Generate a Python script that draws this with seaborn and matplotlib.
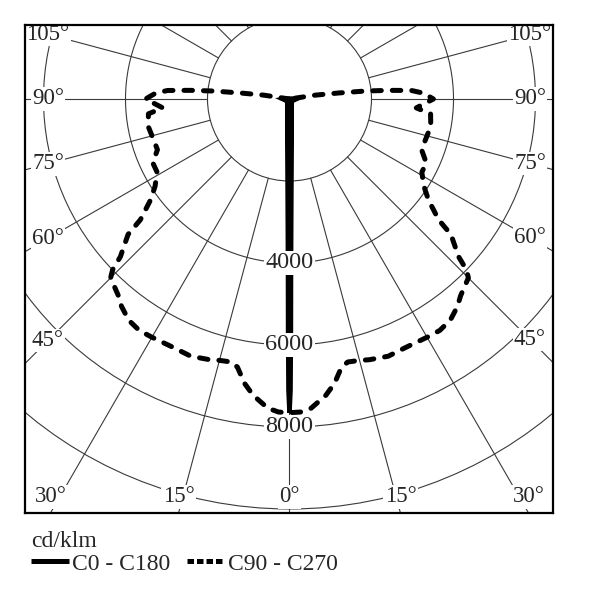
import numpy as np
import matplotlib
matplotlib.use("Agg")
import matplotlib.pyplot as plt
import matplotlib.patches as patches
from matplotlib.lines import Line2D
import seaborn as sns

# C0 - C180 plane, gamma angle (deg) -> cd/klm (C180 is the mirror image)
c0_angles = [0, 0.2, 0.35, 0.5, 0.8, 1.2, 2, 3, 5, 8, 12, 20, 30, 45, 60, 75, 90, 95, 100, 110]
c0_values = [7650, 7100, 5600, 4200, 3000, 2200, 1450, 1030, 620, 390, 260, 158, 110, 85, 80, 110, 170, 120, 60, 0]

# C90 - C270 plane (C270 is the mirror image)
c90_angles = [0, 2, 4, 7, 9, 11, 12.5, 15, 17, 21, 25, 30, 33, 36, 39, 41, 45, 46, 47,
              50, 51, 54, 57, 61, 65, 69, 73, 79, 84, 86, 90, 92.5, 94, 95, 96, 97, 98.5, 100]
c90_values = [7650, 7640, 7560, 7280, 7020, 6660, 6570, 6600, 6650, 6720, 6690, 6710, 6730, 6670, 6510, 6360, 6170, 6000, 5640,
              5140, 4680, 4190, 3910, 3690, 3680, 3450, 3460, 3510, 3460, 3100, 3510, 3270, 2980, 2420, 1860, 1200, 640, 0]

grid_radii = [2000, 4000, 6000, 8000, 10000, 12000]
radius_labels = [4000, 6000, 8000]
bottom_angle_labels = [0, 15, 30]
side_angle_labels = [45, 60, 75, 90, 105]
legend_labels = ["C0 - C180", "C90 - C270"]
unit_label = "cd/klm"

S = 0.041  # pixels per cd/klm
FS = 16.5
GRID_COL = '#3a3a3a'


def polar_xy(angles, values):
    '''Mirror a half plane to both sides, 0 deg pointing down.'''
    a = np.radians(np.asarray(angles, float))
    v = np.asarray(values, float)
    a_full = np.concatenate([-a[::-1], a[1:]])
    v_full = np.concatenate([v[::-1], v[1:]])
    return v_full * np.sin(a_full), -v_full * np.cos(a_full)


sns.set_style("white")
plt.rcParams['font.family'] = ['Liberation Serif', 'DejaVu Serif']

fig = plt.figure(figsize=(6, 6), dpi=100)
ax = fig.add_axes([25/600, 87/600, 528/600, 488/600])
xmin, xmax = -264.5/S, 263.5/S
ymin, ymax = -414/S, 74/S

# polar grid
for r in grid_radii:
    ax.add_patch(patches.Circle((0, 0), r, fill=False, lw=0.8, ec=GRID_COL, zorder=1))
for a in range(0, 360, 15):
    t = np.radians(a)
    ax.plot([2000*np.sin(t), 20000*np.sin(t)], [-2000*np.cos(t), -20000*np.cos(t)],
            color=GRID_COL, lw=0.8, zorder=1)

# curves
x0, y0 = polar_xy(c0_angles, c0_values)
sns.lineplot(x=x0, y=y0, sort=False, estimator=None, color='black', lw=3.3, ax=ax, zorder=3)
ax.get_lines()[-1].set_solid_joinstyle('miter')

x90, y90 = polar_xy(c90_angles, c90_values)
sns.lineplot(x=x90, y=y90, sort=False, estimator=None, color='black', lw=3.6, ax=ax, zorder=3)
dash_line = ax.get_lines()[-1]
dash_line.set_linestyle((0, (1.7, 2.2)))
dash_line.set_dash_capstyle('round')

# labels
bbox = dict(fc='white', ec='none', pad=1.0)
for r in radius_labels:
    ax.text(0, -r, str(r), ha='center', va='center', fontsize=17.5, bbox=bbox, zorder=5)

yb = ymin + 16/S
for a in bottom_angle_labels:
    xb = -ymin * np.tan(np.radians(a))
    for sx in ([1] if a == 0 else [-1, 1]):
        ax.text(sx*xb, yb, f"{a}°", ha='center', va='center', fontsize=FS, bbox=bbox, zorder=5)

for a in side_angle_labels:
    t = np.radians(a)
    for xs in (xmin + 23/S, xmax - 23/S):
        ys = -abs(xs) * np.cos(t) / np.sin(t)
        ax.text(xs, ys, f"{a}°", ha='center', va='center', fontsize=FS, bbox=bbox, zorder=5)

ax.set_xlim(xmin, xmax)
ax.set_ylim(ymin, ymax)
ax.set_xticks([])
ax.set_yticks([])
ax.set_xlabel('')
ax.set_ylabel('')
for sp in ax.spines.values():
    sp.set_visible(True)
    sp.set_linewidth(1.6)
    sp.set_color('black')
    sp.set_zorder(6)

handles = [Line2D([], [], color='black', lw=3.6, solid_capstyle='butt'),
           Line2D([], [], color='black', lw=3.6, linestyle=(0, (1.3, 0.6)), dash_capstyle='butt')]
ax.legend(handles, legend_labels, title=unit_label, ncol=2, loc='upper left',
          bbox_to_anchor=(31/600, 1 - 531/600), bbox_transform=fig.transFigure,
          frameon=False, fontsize=17, title_fontsize=17, alignment='left',
          handlelength=1.6, handletextpad=0.15, columnspacing=0.7,
          borderpad=0, borderaxespad=0, labelspacing=0.05)

fig.savefig('out.png', dpi=100)
